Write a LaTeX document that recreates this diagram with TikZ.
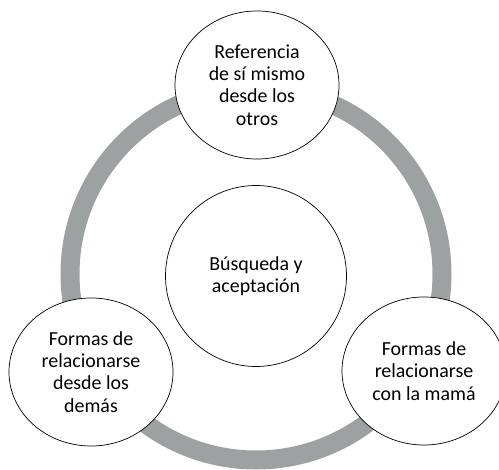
\documentclass[tikz,border=0pt]{standalone}
\usepackage{fontspec}
\setmainfont{Carlito}
\usepackage{tikz}
\usetikzlibrary{shapes.geometric}
\definecolor{ringgray}{RGB}{158,161,161}

\begin{document}
\begin{tikzpicture}[x=0.03cm,y=0.03cm,
  bubble/.style={draw,ellipse,fill=white,line width=0.6pt,minimum width=4.92cm,minimum height=4.44cm,align=center,font=\fontsize{17}{19}\selectfont},
  core/.style={draw,circle,fill=white,line width=0.6pt,minimum size=5.43cm,align=center,font=\fontsize{17}{19}\selectfont}]
\useasboundingbox (0,0) rectangle (499,469);

\draw [ringgray,line width=0.57cm] (256,195) circle (186);

\node [core] (busqueda) at (256,193) {Búsqueda y\\aceptación};

\node [bubble] (referencia) at (257,384) {Referencia\\de sí mismo\\desde los\\otros};
\node [bubble] (demas) at (91,97) {Formas de\\relacionarse\\desde los\\demás};
\node [bubble] (mama) at (424,98) {Formas de\\relacionarse\\con la mamá};

\end{tikzpicture}
\end{document}
